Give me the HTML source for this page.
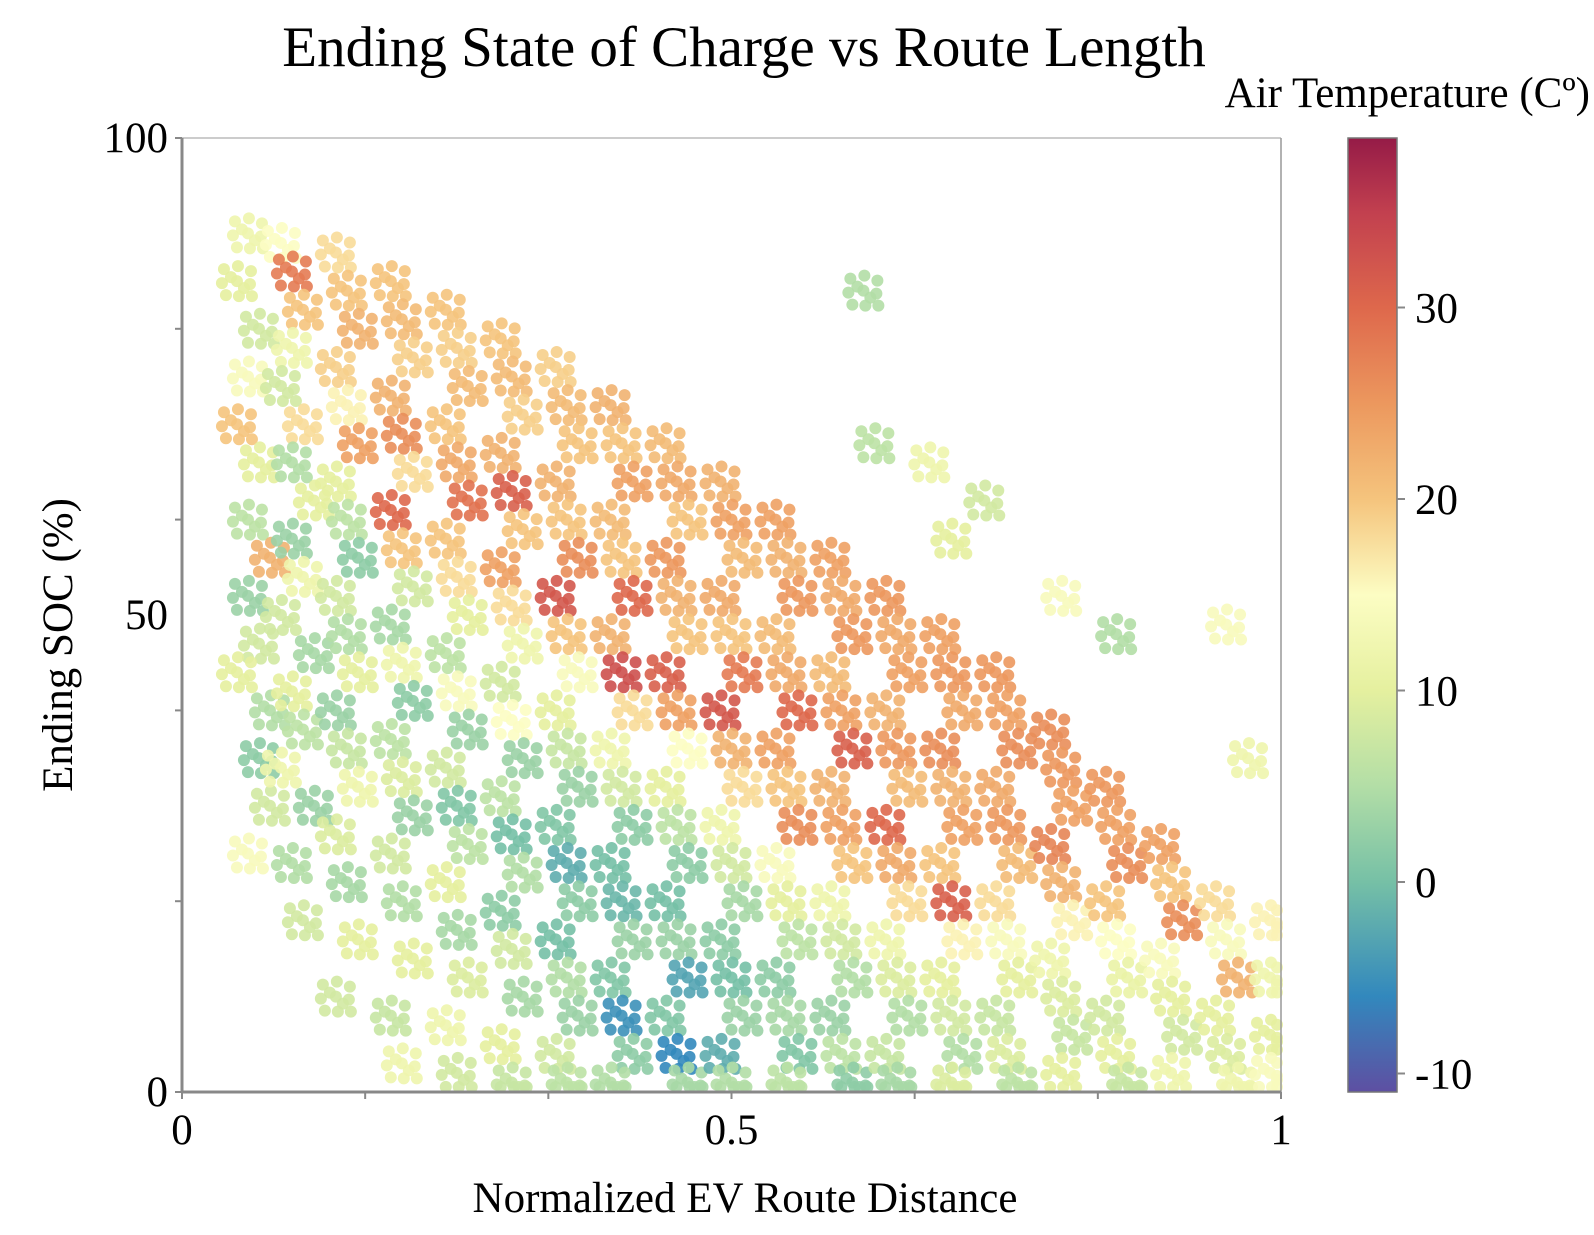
<!DOCTYPE html>
<html><head><meta charset="utf-8"><style>
html,body{margin:0;padding:0;background:#fff;}
svg text{font-family:"Liberation Serif",serif;fill:#000;}
</style></head><body>
<svg id="chart" width="1594" height="1230" viewBox="0 0 1594 1230" xmlns="http://www.w3.org/2000/svg">
<defs>
<linearGradient id="cbgrad" x1="0" y1="1" x2="0" y2="0"></linearGradient>
</defs>
<text x="744" y="66" font-size="57" text-anchor="middle">Ending State of Charge vs Route Length</text>
<text x="1590" y="107" font-size="43" text-anchor="end">Air Temperature (Cº)</text>
<text x="745" y="1212" font-size="43" text-anchor="middle">Normalized EV Route Distance</text>
<text transform="translate(72,645) rotate(-90)" font-size="43" text-anchor="middle">Ending SOC (%)</text>
<g id="points"></g>
<g id="axes"></g>
<g id="colorbar"></g>
</svg>
<script>
const xs=[0.06,0.05,0.07,0.06,0.05,0.07,0.06,0.08,0.06,0.07,0.05,0.08,0.07,0.08,0.06,
0.09,0.1,0.11,0.1,0.09,0.11,0.1,0.12,0.1,0.11,0.09,0.12,0.1,0.11,0.09,0.12,0.1,0.11,
0.14,0.15,0.16,0.14,0.15,0.16,0.14,0.15,0.16,0.14,0.15,0.16,0.14,0.15,0.16,0.14,0.15,0.16,0.14,
0.19,0.2,0.21,0.19,0.2,0.21,0.19,0.2,0.21,0.19,0.2,0.21,0.19,0.2,0.21,0.19,0.2,0.21,0.19,0.2,
0.24,0.25,0.26,0.24,0.25,0.26,0.24,0.25,0.26,0.24,0.25,0.26,0.24,0.25,0.26,0.24,0.25,0.26,0.24,0.25,
0.29,0.3,0.31,0.29,0.3,0.31,0.29,0.3,0.31,0.29,0.3,0.31,0.29,0.3,0.31,0.29,0.3,0.31,0.29,0.3,
0.34,0.35,0.36,0.34,0.35,0.36,0.34,0.35,0.36,0.34,0.35,0.36,0.34,0.35,0.36,0.34,0.35,0.36,0.34,0.35,
0.39,0.4,0.41,0.39,0.4,0.41,0.39,0.4,0.41,0.39,0.4,0.41,0.39,0.4,0.41,0.39,0.4,0.41,0.39,
0.44,0.45,0.46,0.44,0.45,0.46,0.44,0.45,0.46,0.44,0.45,0.46,0.44,0.45,0.46,0.44,0.45,0.46,
0.49,0.5,0.51,0.49,0.5,0.51,0.49,0.5,0.51,0.49,0.5,0.51,0.49,0.5,0.51,0.49,0.5,
0.54,0.55,0.56,0.54,0.55,0.56,0.54,0.55,0.56,0.54,0.55,0.56,0.54,0.55,0.56,0.55,
0.59,0.6,0.61,0.59,0.6,0.61,0.59,0.6,0.61,0.59,0.6,0.61,0.59,0.6,0.61,
0.64,0.65,0.66,0.64,0.65,0.66,0.64,0.65,0.66,0.64,0.65,0.66,0.64,0.65,
0.69,0.7,0.71,0.69,0.7,0.71,0.69,0.7,0.71,0.69,0.7,0.71,0.7,
0.74,0.75,0.76,0.74,0.75,0.76,0.74,0.75,0.76,0.74,0.75,0.76,
0.79,0.8,0.81,0.79,0.8,0.81,0.79,0.8,0.81,0.8,
0.84,0.85,0.86,0.84,0.85,0.86,0.84,0.85,0.86,
0.89,0.9,0.91,0.89,0.9,0.91,0.9,
0.94,0.95,0.96,0.94,0.95,0.96,
0.99,0.99,0.99,0.99,
0.62,0.63,0.68,0.7,0.8,0.85,0.95,0.97,0.73];
const socs=[90,85,80,75,70,66,60,56,52,47,44,40,35,30,25,
89,86,82,78,74,70,66,62,58,54,50,46,42,38,34,30,24,18,
88,84,80,76,72,68,64,60,56,52,48,44,40,36,32,27,22,16,10,
85,81,77,73,69,65,61,57,53,49,45,41,37,33,29,25,20,14,8,3,
82,78,74,70,66,62,58,54,50,46,42,38,34,30,26,22,17,12,7,2,
79,75,71,67,63,59,55,51,47,43,39,35,31,27,23,19,15,10,5,1,
76,72,68,64,60,56,52,48,44,40,36,32,28,24,20,16,12,8,4,1,
72,68,64,60,56,52,48,44,40,36,32,28,24,20,16,12,8,4,1,
68,64,60,56,52,48,44,40,36,32,28,24,20,16,12,8,4,1,
64,60,56,52,48,44,40,36,32,28,24,20,16,12,8,4,1,
60,56,52,48,44,40,36,32,28,24,20,16,12,8,4,1,
56,52,48,44,40,36,32,28,24,20,16,12,8,4,1,
52,48,44,40,36,32,28,24,20,16,12,8,4,1,
48,44,40,36,32,28,24,20,16,12,8,4,1,
44,40,36,32,28,24,20,16,12,8,4,1,
38,34,30,26,22,18,14,10,6,2,
32,28,24,20,16,12,8,4,1,
26,22,18,14,10,6,2,
20,16,12,8,4,1,
18,12,6,2,
84,68,66,58,52,48,49,35,62];
const temps=[12,10,8,14,20,10,6,22,3,8,10,5,2,8,14,
15,28,20,12,8,18,5,10,3,12,8,4,10,6,12,3,5,8,
18,20,22,19,16,24,10,6,2,8,5,10,3,7,12,9,4,10,8,
20,21,19,22,26,18,30,20,8,4,12,2,6,9,3,8,5,10,7,12,
20,19,21,20,23,29,20,18,10,6,14,3,8,1,6,10,4,9,12,8,
20,21,19,22,31,20,24,18,12,8,15,3,6,0,5,2,8,4,10,7,
19,21,20,22,20,26,32,20,14,10,7,3,1,-2,2,0,5,3,8,6,
22,20,24,21,20,30,22,33,18,12,8,2,0,-1,3,1,-5,2,5,
21,23,20,25,22,20,31,24,15,10,6,2,0,3,-3,1,-6,4,
22,24,21,23,20,28,32,22,18,12,8,4,2,0,3,-2,5,
24,22,25,21,23,30,24,20,26,14,10,6,2,4,1,6,
24,23,25,21,24,31,22,24,20,12,8,5,3,6,2,
25,23,24,22,25,21,30,23,18,12,9,5,7,4,
24,25,23,26,22,24,20,31,16,10,8,5,9,
25,24,26,23,25,21,18,14,10,7,9,6,
26,25,24,27,22,16,12,9,7,10,
25,24,26,20,15,11,8,10,7,
24,20,26,14,10,8,12,
18,14,22,10,9,12,
16,12,10,14,
5,6,12,10,14,5,14,12,8];
const xTickVals=[0,0.5,1];
const xTickLabels=["0","0.5","1"];
const yTickVals=[0,50,100];
const yTickLabels=["0","50","100"];
const cbTickVals=[-10,0,10,20,30];
const cbTickLabels=["-10","0","10","20","30"];

const NS="http://www.w3.org/2000/svg";
const PL=182,PR=1281,PT=138,PB=1092;
const X=v=>PL+(PR-PL)*v;
const Y=v=>PB-(PB-PT)*v/100;
const TMIN=-11,TMAX=38.9;
const CY=t=>882-19.15*t;
const stops=[[-11,[94,79,162]],[-6,[50,136,189]],[0,[118,192,166]],[5,[179,222,166]],[10,[229,240,159]],[15,[252,253,195]],[20,[245,196,125]],[25,[236,152,94]],[30,[222,104,76]],[35,[194,64,79]],[39,[149,27,71]]];
function col(t){
  if(t<=stops[0][0])return 'rgb('+stops[0][1]+')';
  for(let i=1;i<stops.length;i++){
    if(t<=stops[i][0]){const a=stops[i-1],b=stops[i],f=(t-a[0])/(b[0]-a[0]);
      return 'rgb('+a[1].map((c,k)=>Math.round(c+(b[1][k]-c)*f)).join(',')+')';}
  }
  return 'rgb('+stops[stops.length-1][1]+')';
}
function mk(tag,attrs,parent){const e=document.createElementNS(NS,tag);for(const k in attrs)e.setAttribute(k,attrs[k]);parent.appendChild(e);return e;}

const grad=document.getElementById('cbgrad');
stops.forEach(s=>{mk('stop',{offset:((s[0]-TMIN)/(TMAX-TMIN)).toFixed(3),'stop-color':'rgb('+s[1]+')'},grad);});

// points: each drawn as a small fixed cluster of dots
const pg=document.getElementById('points');
const offs=[[0,0],[-13,-12],[1,-15],[14,-10],[-15,2],[13,3],[-11,14],[2,15],[15,15],[-6,-4],[7,7]];
for(let i=0;i<xs.length;i++){
  const g=mk('g',{},pg);
  
  
  const c=col(temps[i]);
  offs.forEach(o=>{
    let cx=X(xs[i])+o[0], cy=Y(socs[i])+o[1];
    cx=Math.min(Math.max(cx,PL+5),PR-4); cy=Math.min(Math.max(cy,PT+5),PB-5);
    mk('circle',{cx:cx,cy:cy,r:6,fill:c,'fill-opacity':0.9},g);
  });
}

const ax=document.getElementById('axes');
mk('line',{x1:PL,y1:PT,x2:PR,y2:PT,stroke:'#bbb','stroke-width':1.5},ax);
mk('line',{x1:PR,y1:PT,x2:PR,y2:PB,stroke:'#999','stroke-width':1.5},ax);
const xl=mk('line',{x1:PL,y1:PB,x2:PR,y2:PB,stroke:'#888','stroke-width':3},ax);

const yl=mk('line',{x1:PL,y1:PT,x2:PL,y2:PB,stroke:'#888','stroke-width':3},ax);

for(let k=0;k<=6;k++){const x=X(k/6);mk('line',{x1:x,y1:PB,x2:x,y2:PB+7,stroke:'#888','stroke-width':2},ax);}
for(let k=0;k<=5;k++){const y=Y(k*20);mk('line',{x1:PL-7,y1:y,x2:PL,y2:y,stroke:'#888','stroke-width':2},ax);}
xTickVals.forEach((v,i)=>{const t=mk('text',{x:X(v),y:PB+52,'font-size':43,'text-anchor':'middle'},ax);t.textContent=xTickLabels[i];
  
  });
yTickVals.forEach((v,i)=>{const t=mk('text',{x:PL-14,y:Y(v)+14,'font-size':43,'text-anchor':'end'},ax);t.textContent=yTickLabels[i];
  
  });

const cb=document.getElementById('colorbar');
const bar=mk('rect',{x:1348,y:PT,width:49,height:PB-PT,fill:'url(#cbgrad)',stroke:'#777','stroke-width':1.5},cb);

cbTickVals.forEach((v,i)=>{const y=CY(v);
  mk('line',{x1:1397,y1:y,x2:1405,y2:y,stroke:'#888','stroke-width':2},cb);
  const t=mk('text',{x:1415,y:y+15,'font-size':43},cb);t.textContent=cbTickLabels[i];
  
  });
</script>
</body></html>
